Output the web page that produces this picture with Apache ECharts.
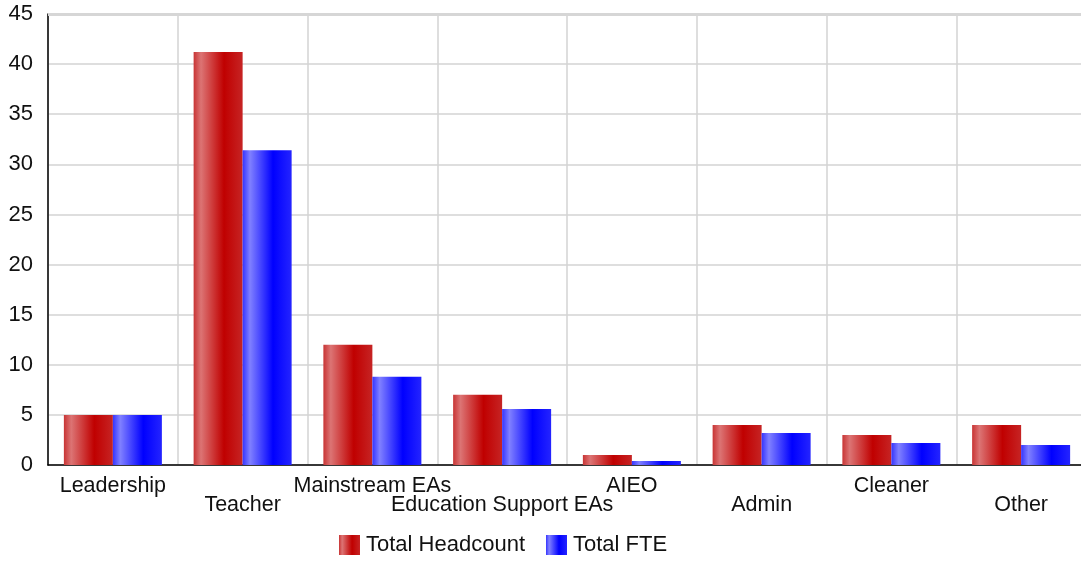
<!DOCTYPE html>
<html>
<head>
<meta charset="utf-8">
<script src="https://cdn.jsdelivr.net/npm/echarts@6/dist/echarts.min.js"></script>
<style>
  html, body { margin: 0; padding: 0; background: #ffffff; overflow: hidden; }
  /* the plot area runs a few pixels past the right edge of the window */
  #chart { width: 1086px; height: 562px; }
</style>
</head>
<body>
<div id="chart"></div>
<script>
// Staff categories and their totals
const categories = ['Leadership', 'Teacher', 'Mainstream EAs', 'Education Support EAs', 'AIEO', 'Admin', 'Cleaner', 'Other'];
const headcount = [5, 41.2, 12, 7, 1, 4, 3, 4];
const fte = [5, 31.4, 8.8, 5.6, 0.4, 3.2, 2.2, 2.0];
const yTicks = { min: 0, max: 45, interval: 5 };

// Cylinder-like horizontal shading for the bars
function shade(edge, light, core, right) {
  return new echarts.graphic.LinearGradient(0, 0, 1, 0, [
    { offset: 0, color: edge },
    { offset: 0.15, color: light },
    { offset: 0.62, color: core },
    { offset: 1, color: right }
  ]);
}
const redFill = shade('#c83434', '#dc7474', '#c00000', '#c62424');
const blueFill = shade('#3434ff', '#8080ff', '#0000ff', '#2424ff');

const font = 'Liberation Sans, Arial, sans-serif';

const chart = echarts.init(document.getElementById('chart'), null, { renderer: 'canvas' });
chart.setOption({
  animation: false,
  backgroundColor: '#ffffff',
  textStyle: { fontFamily: font },
  grid: { left: 48, right: 0, top: 14, bottom: 97, containLabel: false },
  legend: {
    left: 334,
    top: 529,
    itemWidth: 21,
    itemHeight: 20,
    itemGap: 21,
    icon: 'rect',
    textStyle: { fontFamily: font, fontSize: 22, color: '#111111', padding: [3, 0, 0, 1] },
    data: ['Total Headcount', 'Total FTE']
  },
  xAxis: {
    type: 'category',
    data: categories,
    axisLine: { lineStyle: { color: '#000000', width: 1.5 } },
    axisTick: { show: false },
    splitLine: { show: true, interval: 0, lineStyle: { color: '#d3d3d3', width: 1.5 } },
    axisLabel: {
      interval: 0,
      margin: 11,
      fontFamily: font,
      fontSize: 21.5,
      lineHeight: 19.5,
      color: '#111111',
      formatter: (value, index) => (index % 2 === 1 ? '\n' + value : value)
    }
  },
  yAxis: {
    type: 'value',
    min: yTicks.min,
    max: yTicks.max,
    interval: yTicks.interval,
    axisLine: { show: true, lineStyle: { color: '#000000', width: 1.5 } },
    axisTick: { show: false },
    splitLine: { show: true, lineStyle: { color: '#d3d3d3', width: 1.5 } },
    axisLabel: { margin: 15, fontFamily: font, fontSize: 22, color: '#111111' }
  },
  series: [
    {
      name: 'Total Headcount',
      type: 'bar',
      data: headcount,
      barWidth: 49,
      barGap: '0%',
      itemStyle: { color: redFill },
      markLine: {
        silent: true,
        symbol: 'none',
        label: { show: false },
        lineStyle: { color: '#d6d6d6', width: 3, type: 'solid' },
        data: [{ yAxis: yTicks.max }]
      }
    },
    {
      name: 'Total FTE',
      type: 'bar',
      data: fte,
      barWidth: 49,
      barGap: '0%',
      itemStyle: { color: blueFill }
    }
  ]
});
</script>
</body>
</html>
